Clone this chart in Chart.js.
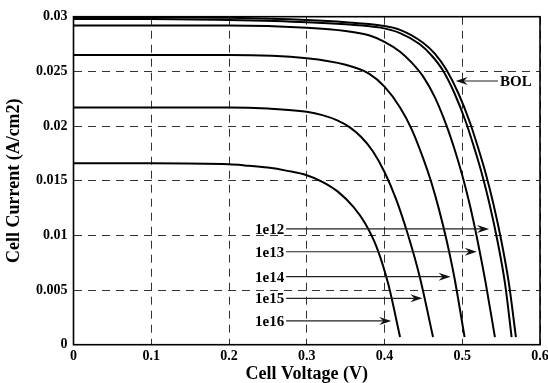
<!DOCTYPE html>
<html>
<head>
<meta charset="utf-8">
<script src="https://cdn.jsdelivr.net/npm/chart.js@4.4.0/dist/chart.umd.min.js"></script>
<style>
  html, body { margin: 0; padding: 0; background: #fff; }
</style>
</head>
<body>
<canvas id="myChart" width="548" height="383"></canvas>
<script>
// I-V curves (voltage in V, current in A/cm2)
const V_BOL = [0, 0.1, 0.2, 0.3, 0.35, 0.395, 0.42, 0.45, 0.465, 0.48, 0.495, 0.51, 0.52, 0.53, 0.54, 0.55, 0.56, 0.569];
const I_BOL = [0.02995, 0.02995, 0.0299, 0.0297, 0.0295, 0.0292, 0.0288, 0.0276, 0.0266, 0.0251, 0.023, 0.0203, 0.0181, 0.0157, 0.0129, 0.0096, 0.0056, 0.0007];

const V_1E12 = [0, 0.1, 0.2, 0.3, 0.35, 0.395, 0.42, 0.445, 0.46, 0.475, 0.49, 0.505, 0.515, 0.525, 0.535, 0.545, 0.555, 0.5635];
const I_1E12 = [0.0298, 0.0298, 0.0297, 0.0295, 0.0293, 0.029, 0.0285, 0.0275, 0.0265, 0.0251, 0.023, 0.0203, 0.0181, 0.0157, 0.0129, 0.0096, 0.0056, 0.0007];

const V_1E13 = [0, 0.1, 0.2, 0.3, 0.35, 0.38, 0.4, 0.42, 0.435, 0.45, 0.465, 0.48, 0.49, 0.5, 0.51, 0.52, 0.53, 0.542];
const I_1E13 = [0.0292, 0.0292, 0.0292, 0.029, 0.0287, 0.0283, 0.0277, 0.0268, 0.0258, 0.0245, 0.0226, 0.02, 0.0179, 0.0155, 0.0127, 0.0094, 0.0057, 0.0007];

const V_1E14 = [0, 0.1, 0.2, 0.3, 0.35, 0.38, 0.4, 0.42, 0.435, 0.45, 0.46, 0.47, 0.48, 0.49, 0.503];
const I_1E14 = [0.0265, 0.0265, 0.0265, 0.0262, 0.0256, 0.0248, 0.0236, 0.0217, 0.0197, 0.017, 0.0149, 0.0124, 0.0095, 0.0061, 0.0007];

const V_1E15 = [0, 0.1, 0.2, 0.25, 0.3, 0.32, 0.34, 0.355, 0.37, 0.385, 0.4, 0.415, 0.43, 0.445, 0.4624];
const I_1E15 = [0.0217, 0.0217, 0.0217, 0.0216, 0.0213, 0.021, 0.0205, 0.0199, 0.019, 0.0177, 0.0158, 0.0133, 0.0101, 0.0063, 0.0007];

const V_1E16 = [0, 0.1, 0.2, 0.22, 0.25, 0.275, 0.3, 0.32, 0.34, 0.36, 0.375, 0.39, 0.405, 0.42];
const I_1E16 = [0.0166, 0.0166, 0.0165, 0.0164, 0.0162, 0.0159, 0.0155, 0.0149, 0.014, 0.0126, 0.0111, 0.0089, 0.0055, 0.0007];

// axis ticks
const X_TICKS = [0, 0.1, 0.2, 0.3, 0.4, 0.5, 0.6];
const X_TICK_LABELS = ['0', '0.1', '0.2', '0.3', '0.4', '0.5', '0.6'];
const Y_TICKS = [0, 0.005, 0.01, 0.015, 0.02, 0.025, 0.03];
const Y_TICK_LABELS = ['0', '0.005', '0.01', '0.015', '0.02', '0.025', '0.03'];

// arrow annotations (label, current level, tail voltage, tip voltage)
const ARROW_LABELS = ['1e12', '1e13', '1e14', '1e15', '1e16', 'BOL'];
const ARROW_I = [0.01059, 0.0085, 0.00622, 0.00424, 0.00217, 0.02412];
const ARROW_TAIL_V = [0.2735, 0.2735, 0.2735, 0.2735, 0.2735, 0.546];
const ARROW_TIP_V = [0.5345, 0.5187, 0.485, 0.4487, 0.4087, 0.4916];

const SERIF = '"Liberation Serif", "Times New Roman", serif';

function toPoints(vs, is) {
    return vs.map((v, k) => ({ x: v, y: is[k] }));
}

function curve(label, vs, is) {
    return {
        label: label,
        data: toPoints(vs, is),
        showLine: true,
        pointRadius: 0,
        borderColor: '#000',
        borderWidth: 2,
        cubicInterpolationMode: 'monotone',
        fill: false
    };
}

// full box round the plot area
const boxPlugin = {
    id: 'box',
    beforeDatasetsDraw(chart) {
        const { ctx, chartArea: a } = chart;
        ctx.save();
        ctx.strokeStyle = '#000';
        ctx.lineWidth = 1.6;
        ctx.strokeRect(a.left, a.top, a.right - a.left, a.bottom - a.top);
        ctx.restore();
    }
};

// labelled arrows
const arrowPlugin = {
    id: 'arrows',
    afterDatasetsDraw(chart) {
        const { ctx, scales: { x, y } } = chart;
        ctx.save();
        ctx.font = 'bold 15px ' + SERIF;
        ctx.textBaseline = 'middle';
        ARROW_LABELS.forEach((txt, k) => {
            const py = y.getPixelForValue(ARROW_I[k]);
            const tail = x.getPixelForValue(ARROW_TAIL_V[k]);
            const tip = x.getPixelForValue(ARROW_TIP_V[k]);
            const dir = tip > tail ? 1 : -1;
            ctx.strokeStyle = '#222';
            ctx.lineWidth = 1.2;
            ctx.beginPath();
            ctx.moveTo(tail, py);
            ctx.lineTo(tip - dir * 6, py);
            ctx.stroke();
            ctx.fillStyle = '#111';
            ctx.beginPath();
            ctx.moveTo(tip, py);
            ctx.lineTo(tip - dir * 12, py - 4);
            ctx.lineTo(tip - dir * 8, py);
            ctx.lineTo(tip - dir * 12, py + 4);
            ctx.closePath();
            ctx.fill();
            ctx.fillStyle = '#000';
            ctx.textAlign = dir > 0 ? 'right' : 'left';
            ctx.fillText(txt, tail - dir * 2, py + 1);
        });
        ctx.restore();
    }
};

const config = {
    type: 'scatter',
    data: {
        datasets: [
            curve('BOL', V_BOL, I_BOL),
            curve('1e12', V_1E12, I_1E12),
            curve('1e13', V_1E13, I_1E13),
            curve('1e14', V_1E14, I_1E14),
            curve('1e15', V_1E15, I_1E15),
            curve('1e16', V_1E16, I_1E16)
        ]
    },
    options: {
        responsive: false,
        animation: false,
        layout: { padding: { top: 16.7, right: 8, left: 0, bottom: 0 } },
        plugins: {
            legend: { display: false },
            tooltip: { enabled: false }
        },
        scales: {
            x: {
                type: 'linear',
                min: 0,
                max: 0.6,
                afterBuildTicks: s => { s.ticks = X_TICKS.map(v => ({ value: v })); },
                afterFit: s => { s.height = 38.3; s.paddingLeft = 0; s.paddingRight = 0; },
                ticks: {
                    padding: 3,
                    color: '#000',
                    maxRotation: 0,
                    font: { family: SERIF, size: 14, weight: 'bold' },
                    callback: (v, i) => X_TICK_LABELS[i]
                },
                grid: { color: '#333', lineWidth: 1, drawTicks: false },
                border: { display: false, dash: [8, 6] },
                title: {
                    display: true,
                    text: 'Cell Voltage (V)',
                    color: '#000',
                    padding: { top: 0, bottom: 0 },
                    font: { family: SERIF, size: 18, weight: 'bold', lineHeight: 1 }
                }
            },
            y: {
                type: 'linear',
                min: 0,
                max: 0.03,
                afterBuildTicks: s => { s.ticks = Y_TICKS.map(v => ({ value: v })); },
                afterFit: s => { s.width = 73.5; },
                ticks: {
                    padding: 6,
                    color: '#000',
                    font: { family: SERIF, size: 14, weight: 'bold' },
                    callback: (v, i) => Y_TICK_LABELS[i]
                },
                grid: { color: '#333', lineWidth: 1, drawTicks: false },
                border: { display: false, dash: [8, 6] },
                title: {
                    display: true,
                    text: 'Cell Current (A/cm2)',
                    color: '#000',
                    padding: { top: 5, bottom: 0 },
                    font: { family: SERIF, size: 18, weight: 'bold', lineHeight: 1 }
                }
            }
        }
    },
    plugins: [boxPlugin, arrowPlugin]
};

const myChart = new Chart(document.getElementById('myChart'), config);
</script>
</body>
</html>
